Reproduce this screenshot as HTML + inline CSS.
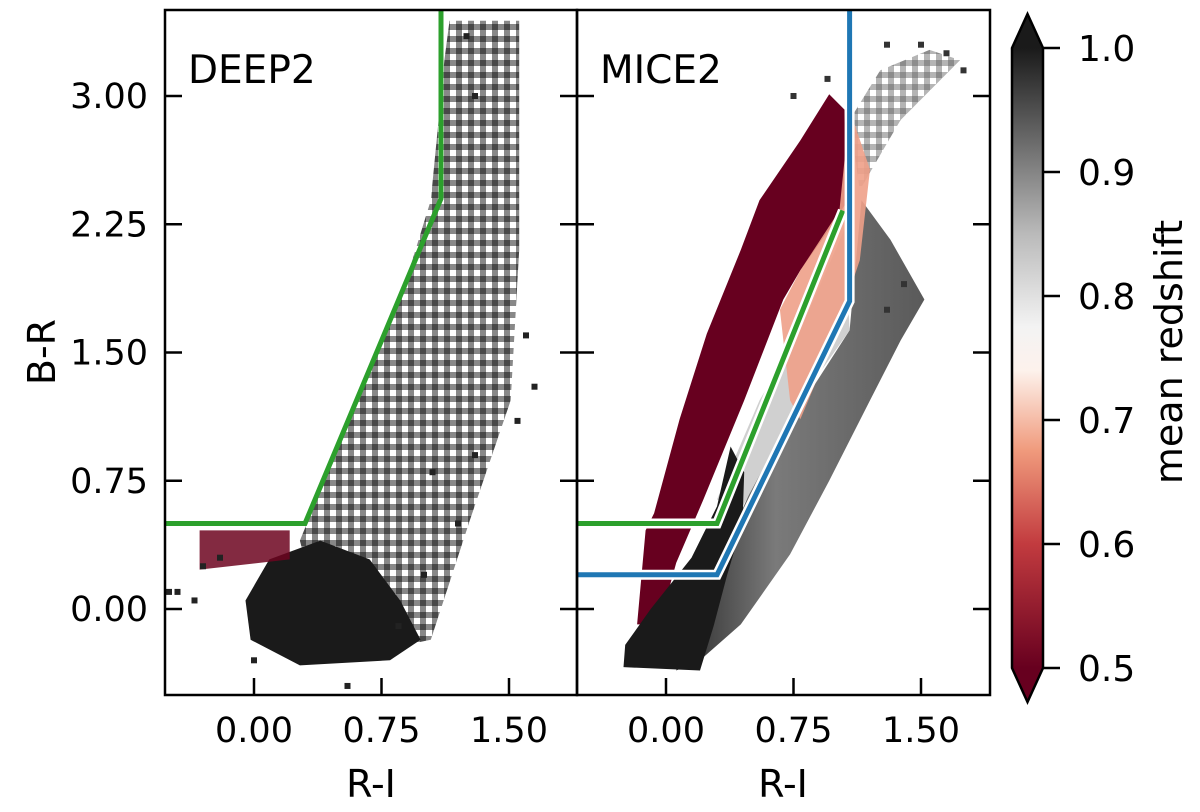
<!DOCTYPE html>
<html><head><meta charset="utf-8"><style>
body{margin:0;background:#fff;}
svg text{font-family:"DejaVu Sans","Liberation Sans",sans-serif;fill:#000;}
</style></head><body>
<svg id="chart" width="1200" height="807" viewBox="0 0 1200 807" xmlns="http://www.w3.org/2000/svg">
<defs>
<linearGradient id="cbgrad" x1="0" y1="1" x2="0" y2="0">
<stop offset="0" stop-color="#67001f"/><stop offset="0.2" stop-color="#c23b3f"/>
<stop offset="0.35" stop-color="#f09a7c"/><stop offset="0.48" stop-color="#fdf2ec"/>
<stop offset="0.55" stop-color="#f3f3f3"/><stop offset="0.7" stop-color="#bababa"/>
<stop offset="0.85" stop-color="#6a6a6a"/><stop offset="1" stop-color="#1a1a1a"/>
</linearGradient>
<linearGradient id="greyband" x1="0" y1="0" x2="1" y2="0">
<stop offset="0" stop-color="#2a2a2a"/><stop offset="0.4" stop-color="#7a7a7a"/><stop offset="1" stop-color="#5a5a5a"/>
</linearGradient>
<pattern id="speck" width="12" height="12" patternUnits="userSpaceOnUse">
<rect width="12" height="12" fill="#6a6a6a"/>
<rect x="0" y="0" width="6" height="6" fill="#1a1a1a"/>
<rect x="6" y="6" width="6" height="6" fill="#fff"/>
</pattern>
<clipPath id="clipL"><rect x="165" y="10" width="412" height="685"/></clipPath>
<clipPath id="clipR"><rect x="577" y="10" width="413" height="685"/></clipPath>
</defs>
<g id="plots"></g>
</svg>
<script>
const xTicks=[0.00,0.75,1.50];
const xTickLabels=["0.00","0.75","1.50"];
const yTicks=[0.00,0.75,1.50,2.25,3.00];
const yTickLabels=["0.00","0.75","1.50","2.25","3.00"];
const cbTicks=[0.5,0.6,0.7,0.8,0.9,1.0];
const cbTickLabels=["0.5","0.6","0.7","0.8","0.9","1.0"];
// DEEP2 regions [R-I, B-R]
const deepSparse=[[0.27,0.4],[0.56,1.11],[0.86,1.81],[1.04,2.39],[1.12,3.21],[1.15,3.44],[1.56,3.44],[1.56,2.1],[1.51,1.22],[1.27,0.52],[1.04,-0.18],[0.45,-0.3]];
const deepDense=[[-0.05,0.05],[0.09,0.29],[0.39,0.4],[0.68,0.29],[0.86,0.05],[0.98,-0.18],[0.8,-0.3],[0.27,-0.33],[-0.02,-0.18]];
const deepRed=[[-0.32,0.46],[0.21,0.46],[0.21,0.29],[-0.32,0.23]];
const deepPoints=[[-0.45,0.1],[-0.3,0.25],[-0.2,0.3],[1.3,0.9],[1.2,0.5],[1.0,0.2],[0.55,-0.45],[1.6,1.6],[1.55,1.1],[1.3,3.0],[1.25,3.35],[0.0,-0.3],[-0.35,0.05],[0.85,-0.1],[1.05,0.8],[-0.5,0.1],[1.65,1.3]];
// MICE2 regions
const miceGrey=[[0.06,-0.36],[0.2,-0.3],[0.44,-0.09],[0.73,0.32],[0.96,0.75],[1.2,1.22],[1.38,1.57],[1.52,1.81],[1.32,2.16],[1.15,2.39],[1.08,1.63],[0.55,0.81],[0.32,0.29],[0.14,0.0]];
const miceTop=[[1.14,2.45],[1.38,2.86],[1.73,3.21],[1.55,3.27],[1.26,3.15],[1.08,2.86]];
const miceLight=[[0.3,0.64],[0.55,1.22],[0.79,1.63],[1.05,2.22],[1.08,1.63],[0.79,1.22],[0.44,0.58]];
const miceRed=[[-0.17,-0.09],[-0.12,0.46],[-0.07,0.56],[0.08,1.11],[0.24,1.61],[0.44,2.10],[0.55,2.39],[0.79,2.74],[0.96,3.01],[1.05,2.92],[1.07,2.39],[0.96,2.22],[0.79,1.98],[0.69,1.81],[0.46,1.22],[0.22,0.64],[0.06,0.27],[-0.04,-0.09]];
const miceSalmon=[[0.67,1.75],[0.79,1.98],[1.02,2.33],[1.08,2.92],[1.2,2.57],[1.14,2.04],[0.96,1.51],[0.79,1.11],[0.73,1.22]];
const miceBlack=[[-0.25,-0.34],[0.2,-0.36],[0.28,-0.1],[0.36,0.2],[0.45,0.5],[0.46,0.8],[0.38,0.95],[0.3,0.6],[0.15,0.3],[-0.09,0.0],[-0.24,-0.21]];
const micePoints=[[1.75,3.15],[1.65,3.25],[1.5,3.3],[1.3,3.3],[0.95,3.1],[1.3,1.75],[1.4,1.9],[0.75,3.0]];
const deepCut=[[-0.6,0.5],[0.3,0.5],[1.1,2.4],[1.1,3.6]];
const miceGreenCut=[[-0.6,0.5],[0.3,0.5],[1.04,2.33]];
const miceBlueCut=[[-0.6,0.2],[0.3,0.2],[1.08,1.8],[1.08,3.6]];

const NS="http://www.w3.org/2000/svg";
const g=document.getElementById('plots');
function mk(t,a,p){const e=document.createElementNS(NS,t);for(const k in a)e.setAttribute(k,a[k]);(p||g).appendChild(e);return e;}
const X=(v,x0)=>x0+89+v*170;
const Y=v=>609-v*171;
function poly(pts,x0,fill,name,op,parent){const e=mk('polygon',{points:pts.map(p=>X(p[0],x0)+','+Y(p[1])).join(' '),fill:fill,opacity:op||1},parent);

}
function line(pts,x0,col,name,outline,parent){const d=pts.map(p=>X(p[0],x0)+','+Y(p[1])).join(' ');
if(outline){mk('polyline',{points:d,fill:'none',stroke:'#fff',"stroke-width":10},parent);}
const e=mk('polyline',{points:d,fill:'none',stroke:col,"stroke-width":5},parent);

}
function pts(list,x0,col,name,parent){list.forEach(p=>{const e=mk('rect',{x:X(p[0],x0)-3,y:Y(p[1])-3,width:6,height:6,fill:col},parent);

});}

const L=165,R=577;
const gl=mk('g',{"clip-path":"url(#clipL)"});
poly(deepSparse,L,'url(#speck)','deep2-sparse-region',0.8,gl);
poly(deepDense,L,'#1a1a1a','deep2-dense-region',1,gl);
poly(deepRed,L,'#6d0520','deep2-low-z-region',0.85,gl);
pts(deepPoints,L,'#222','deep2-bin',gl);
line(deepCut,L,'#2ca02c','deep2-color-cut',false,gl);
const gr=mk('g',{"clip-path":"url(#clipR)"});
poly(miceGrey,R,'url(#greyband)','mice2-grey-region',1,gr);
poly(miceTop,R,'url(#speck)','mice2-top-region',0.5,gr);
poly(miceLight,R,'#d0d0d0','mice2-light-region',1,gr);
poly(miceRed,R,'#67001f','mice2-red-region',1,gr);
poly(miceSalmon,R,'#eea088','mice2-salmon-region',0.9,gr);
poly(miceBlack,R,'#1a1a1a','mice2-black-region',1,gr);
pts(micePoints,R,'#333','mice2-bin',gr);
line(miceGreenCut,R,'#2ca02c','mice2-green-cut',true,gr);
line(miceBlueCut,R,'#1f77b4','mice2-blue-cut',true,gr);

[L,R].forEach((x0,i)=>{
 const w=i?413:412;
 const f=mk('rect',{x:x0,y:10,width:w,height:685,fill:'none',stroke:'#000',"stroke-width":2.5});
 
 
 yTicks.forEach((v,j)=>{mk('line',{x1:x0,x2:x0+17,y1:Y(v),y2:Y(v),stroke:'#000',"stroke-width":2.5});
  mk('line',{x1:x0+w-17,x2:x0+w,y1:Y(v),y2:Y(v),stroke:'#000',"stroke-width":2.5});
  if(i===0){const t=mk('text',{x:x0-17,y:Y(v)+12,"font-size":35,"text-anchor":"end"});t.textContent=yTickLabels[j];
  
  }});
 xTicks.forEach((v,j)=>{mk('line',{x1:X(v,x0),x2:X(v,x0),y1:695,y2:678,stroke:'#000',"stroke-width":2.5});
  const t=mk('text',{x:X(v,x0),y:742,"font-size":35,"text-anchor":"middle"});t.textContent=xTickLabels[j];
  
  });
 const xt=mk('text',{x:x0+206,y:797,"font-size":38,"text-anchor":"middle"});xt.textContent='R-I';
 
 
 const tt=mk('text',{x:x0+23,y:83,"font-size":39});tt.textContent=i?'MICE2':'DEEP2';
 
 
});
const yt=mk('text',{x:55,y:352,"font-size":38,"text-anchor":"middle",transform:"rotate(-90 55 352)"});yt.textContent='B-R';


// colorbar
const CY=v=>668-(v-0.5)*1240;
const cb=mk('g',{});


mk('rect',{x:1012,y:48,width:31,height:620,fill:'url(#cbgrad)'},cb);
mk('polygon',{points:"1012,48 1027.5,14 1043,48",fill:'#1a1a1a'},cb);
mk('polygon',{points:"1012,668 1027.5,702 1043,668",fill:'#67001f'},cb);
mk('polygon',{points:"1012,48 1027.5,14 1043,48 1043,668 1027.5,702 1012,668",fill:'none',stroke:'#000',"stroke-width":2.5},cb);
cbTicks.forEach((v,j)=>{mk('line',{x1:1043,x2:1060,y1:CY(v),y2:CY(v),stroke:'#000',"stroke-width":2.5},cb);
 const t=mk('text',{x:1078,y:CY(v)+13,"font-size":36},cb);t.textContent=cbTickLabels[j];
 
 });
const ct=mk('text',{x:1182,y:352,"font-size":38,"text-anchor":"middle",transform:"rotate(-90 1182 352)"});ct.textContent='mean redshift';


</script>
</body></html>
